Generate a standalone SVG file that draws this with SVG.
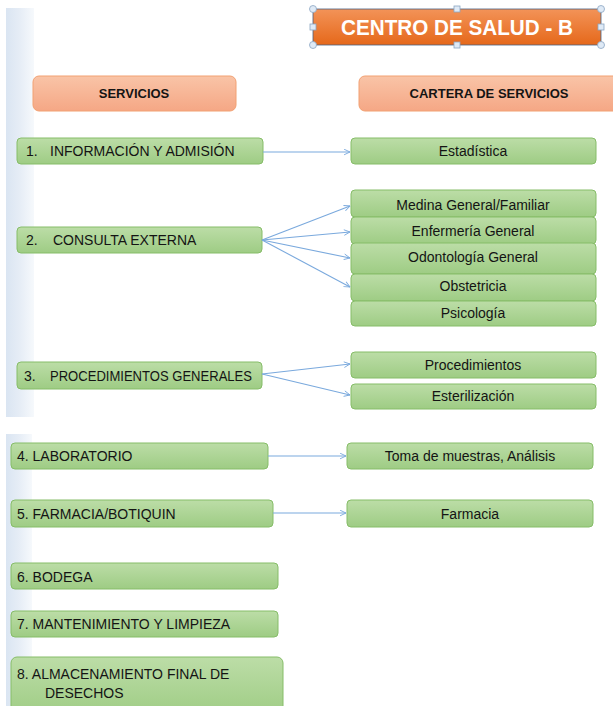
<svg xmlns="http://www.w3.org/2000/svg" width="613" height="706" viewBox="0 0 613 706">
<defs>
<linearGradient id="gGreen" x1="0" y1="0" x2="0" y2="1"><stop offset="0" stop-color="#bcdda7"/><stop offset="1" stop-color="#9ecc84"/></linearGradient>
<linearGradient id="gSalmon" x1="0" y1="0" x2="0" y2="1"><stop offset="0" stop-color="#f9c4a7"/><stop offset="1" stop-color="#f5a785"/></linearGradient>
<linearGradient id="gOrange" x1="0" y1="0" x2="0" y2="1"><stop offset="0" stop-color="#f39358"/><stop offset="1" stop-color="#e5681a"/></linearGradient>
<linearGradient id="gStripe" x1="0" y1="0" x2="1" y2="0"><stop offset="0" stop-color="#dae5f2"/><stop offset="0.5" stop-color="#e6edf6"/><stop offset="1" stop-color="#f6f9fc"/></linearGradient>
<marker id="arr" viewBox="0 0 10 10" refX="9.5" refY="5" markerWidth="7" markerHeight="7" markerUnits="userSpaceOnUse" orient="auto">
<path d="M1,1 L9.5,5 L1,9" fill="none" stroke="#7aa9dd" stroke-width="1.3"/>
</marker>
<style>
.g{fill:url(#gGreen);stroke:#86bd68;stroke-width:1}
.s{fill:url(#gSalmon);stroke:#f2a173;stroke-width:1}
.t{font-family:"Liberation Sans",Arial,sans-serif;font-size:14px;fill:#141414}
.c{text-anchor:middle}
.h{font-family:"Liberation Sans",Arial,sans-serif;font-size:13px;font-weight:bold;fill:#141414;text-anchor:middle}
.ln{fill:none;stroke:#7aa9dd;stroke-width:1.1;marker-end:url(#arr)}
.hc{fill:#dfeaf6;stroke:#8aa5c2;stroke-width:0.8}
</style>
</defs>
<rect width="613" height="706" fill="#ffffff"/>
<!-- background stripe -->
<rect x="6" y="8" width="28" height="409" fill="url(#gStripe)"/>
<rect x="6" y="434" width="26" height="272" fill="url(#gStripe)"/>

<g id="title">
<rect x="313" y="9" width="288" height="36" fill="url(#gOrange)" stroke="#4a6283" stroke-width="0.8"/>
<text x="457" y="35" text-anchor="middle" font-family="Liberation Sans, Arial, sans-serif" font-size="22" font-weight="bold" fill="#ffffff" textLength="232" lengthAdjust="spacingAndGlyphs">CENTRO DE SALUD - B</text>
<circle class="hc" cx="313" cy="9" r="3.5"/><circle class="hc" cx="601" cy="9" r="3.5"/>
<circle class="hc" cx="313" cy="45" r="3.5"/><circle class="hc" cx="601" cy="45" r="3.5"/>
<rect class="hc" x="454" y="6" width="6" height="6"/><rect class="hc" x="454" y="42" width="6" height="6"/>
<rect class="hc" x="310" y="24" width="6" height="6"/><rect class="hc" x="598" y="24" width="6" height="6"/>
</g>

<g id="hdr-servicios"><rect class="s" x="33" y="76" width="203" height="35" rx="6"/><text class="h" x="134" y="98">SERVICIOS</text></g>
<g id="hdr-cartera"><rect class="s" x="359" y="76" width="262" height="35" rx="6"/><text class="h" x="489" y="98">CARTERA DE SERVICIOS</text></g>

<g id="n1"><rect class="g" x="17" y="138" width="246" height="26" rx="4"/><text class="t" y="156"><tspan x="26">1.</tspan><tspan x="50">INFORMACIÓN Y ADMISIÓN</tspan></text></g>
<g id="n2"><rect class="g" x="17" y="227" width="245" height="26" rx="4"/><text class="t" y="245"><tspan x="26">2.</tspan><tspan x="53">CONSULTA EXTERNA</tspan></text></g>
<g id="n3"><rect class="g" x="17" y="362" width="245" height="27" rx="4"/><text class="t" y="381"><tspan x="24">3.</tspan></text><text class="t" x="50" y="381" textLength="202" lengthAdjust="spacingAndGlyphs">PROCEDIMIENTOS GENERALES</text></g>
<g id="n4"><rect class="g" x="11" y="443" width="257" height="26" rx="4"/><text class="t" x="17" y="461">4. LABORATORIO</text></g>
<g id="n5"><rect class="g" x="11" y="500" width="262" height="27" rx="4"/><text class="t" x="17" y="519">5. FARMACIA/BOTIQUIN</text></g>
<g id="n6"><rect class="g" x="11" y="563" width="267" height="26" rx="4"/><text class="t" x="17" y="582">6. BODEGA</text></g>
<g id="n7"><rect class="g" x="11" y="611" width="267" height="26" rx="4"/><text class="t" x="17" y="629">7. MANTENIMIENTO Y LIMPIEZA</text></g>
<g id="n8"><rect class="g" x="11" y="657" width="272" height="60" rx="6"/><text class="t" x="17" y="679">8. ALMACENAMIENTO  FINAL DE</text><text class="t" x="45" y="698">DESECHOS</text></g>

<g id="r-estadistica"><rect class="g" x="351" y="138" width="245" height="26" rx="4"/><text class="t c" x="473" y="156">Estadística</text></g>
<g id="r-medina"><rect class="g" x="351" y="190" width="245" height="27" rx="4"/><text class="t c" x="473" y="210">Medina General/Familiar</text></g>
<g id="r-enfermeria"><rect class="g" x="351" y="217" width="245" height="27" rx="4"/><text class="t c" x="473" y="236">Enfermería General</text></g>
<g id="r-odontologia"><rect class="g" x="351" y="243" width="245" height="31" rx="4"/><text class="t c" x="473" y="262">Odontología General</text></g>
<g id="r-obstetricia"><rect class="g" x="351" y="274" width="245" height="27" rx="4"/><text class="t c" x="473" y="291">Obstetricia</text></g>
<g id="r-psicologia"><rect class="g" x="351" y="301" width="245" height="25" rx="4"/><text class="t c" x="473" y="318">Psicología</text></g>
<g id="r-procedimientos"><rect class="g" x="351" y="352" width="245" height="26" rx="4"/><text class="t c" x="473" y="370">Procedimientos</text></g>
<g id="r-esterilizacion"><rect class="g" x="351" y="384" width="245" height="25" rx="4"/><text class="t c" x="473" y="401">Esterilización</text></g>
<g id="r-toma"><rect class="g" x="347" y="443" width="246" height="26" rx="4"/><text class="t c" x="470" y="461">Toma de muestras, Análisis</text></g>
<g id="r-farmacia"><rect class="g" x="347" y="500" width="246" height="27" rx="4"/><text class="t c" x="470" y="519">Farmacia</text></g>

<g id="connectors">
<path class="ln" d="M263,152 L350,152"/>
<path class="ln" d="M262,240 L350,206"/>
<path class="ln" d="M262,240 L350,232"/>
<path class="ln" d="M262,240 L350,258"/>
<path class="ln" d="M262,240 L350,287"/>
<path class="ln" d="M262,374 L350,364"/>
<path class="ln" d="M262,374 L350,395"/>
<path class="ln" d="M268,456 L346,456"/>
<path class="ln" d="M273,513 L346,513"/>
</g>
</svg>
